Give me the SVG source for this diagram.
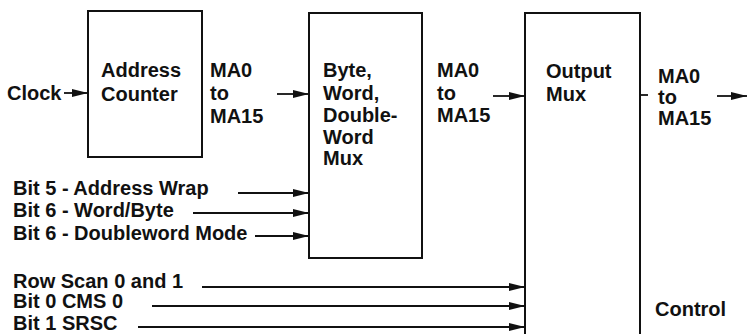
<svg xmlns="http://www.w3.org/2000/svg" width="748" height="334" viewBox="0 0 748 334">
<defs>
<marker id="ah" viewBox="0 0 16 9" refX="16" refY="4.5" markerWidth="16" markerHeight="9" markerUnits="userSpaceOnUse" orient="auto">
<path d="M0,0.5 L16,4.5 L0,8.5 Z" fill="#111"/>
</marker>
<style>
.box{fill:#fff;stroke:#111;stroke-width:2}
.t{font-family:"Liberation Sans",Arial,Helvetica,sans-serif;font-weight:bold;font-size:20px;fill:#111}
.c{stroke:#111;stroke-width:1.8;fill:none}
.a{marker-end:url(#ah)}
</style>
</defs>
<rect width="748" height="334" fill="#fff"/>
<g id="address-counter">
<rect class="box" x="88" y="11" width="114" height="146"/>
<text class="t" x="101" y="77">Address</text>
<text class="t" x="101" y="101">Counter</text>
</g>
<g id="bwd-mux">
<rect class="box" x="309" y="13" width="113" height="245"/>
<text class="t" x="323" y="77">Byte,</text>
<text class="t" x="323" y="100">Word,</text>
<text class="t" x="323" y="122">Double-</text>
<text class="t" x="323" y="144">Word</text>
<text class="t" x="323" y="165">Mux</text>
</g>
<g id="output-mux">
<path class="box" d="M525,340 V13 H640 V340"/>
<text class="t" x="546" y="78">Output</text>
<text class="t" x="546" y="101">Mux</text>
<text class="t" x="655" y="316">Control</text>
</g>
<g id="labels">
<text class="t" x="7" y="100">Clock</text>
<text class="t" x="210" y="77">MA0</text>
<text class="t" x="210" y="100">to</text>
<text class="t" x="210" y="123">MA15</text>
<text class="t" x="437" y="77">MA0</text>
<text class="t" x="437" y="100">to</text>
<text class="t" x="437" y="122">MA15</text>
<text class="t" x="658" y="83">MA0</text>
<text class="t" x="658" y="104">to</text>
<text class="t" x="658" y="125">MA15</text>
<text class="t" x="13" y="195">Bit 5 - Address Wrap</text>
<text class="t" x="13" y="217">Bit 6 - Word/Byte</text>
<text class="t" x="13" y="240">Bit 6 - Doubleword Mode</text>
<text class="t" x="13" y="288">Row Scan 0 and 1</text>
<text class="t" x="13" y="308">Bit 0 CMS 0</text>
<text class="t" x="13" y="330">Bit 1 SRSC</text>
</g>
<g id="connectors">
<line class="c a" x1="64" y1="93" x2="88" y2="93"/>
<line class="c a" x1="277" y1="94" x2="309" y2="94"/>
<line class="c a" x1="493" y1="96" x2="525" y2="96"/>
<line class="c" x1="640" y1="95" x2="648" y2="95"/>
<line class="c a" x1="717" y1="96" x2="747" y2="96"/>
<line class="c a" x1="238" y1="193" x2="309" y2="193"/>
<line class="c a" x1="193" y1="213" x2="309" y2="213"/>
<line class="c a" x1="255" y1="236" x2="309" y2="236"/>
<line class="c a" x1="202" y1="287" x2="525" y2="287"/>
<line class="c a" x1="152" y1="306" x2="525" y2="306"/>
<line class="c a" x1="138" y1="327" x2="525" y2="327"/>
</g>
</svg>
